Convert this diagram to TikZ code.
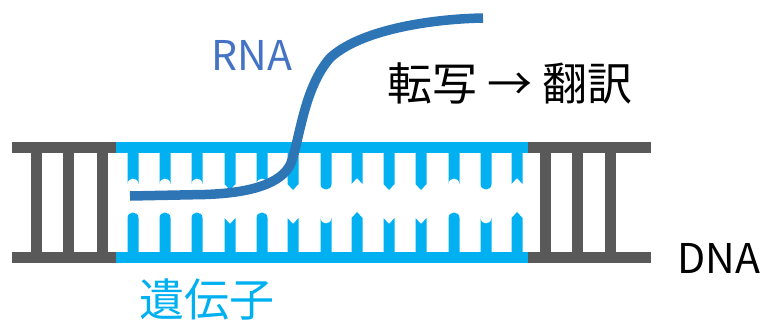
\documentclass[tikz,border=0pt]{standalone}
\usepackage{fontspec}
\setmainfont{Noto Sans CJK JP}

\definecolor{dnagray}{RGB}{89,89,89}
\definecolor{genecyan}{RGB}{0,176,240}
\definecolor{rnablue}{RGB}{46,117,182}
\definecolor{rnatext}{RGB}{68,114,196}

\tikzstyle{strand}=[fill=dnagray]
\tikzstyle{gene}=[fill=genecyan]
\tikzstyle{rna}=[draw=rnablue, line width=9.5pt]
\tikzstyle{label}=[inner sep=0pt, font=\fontsize{41}{41}\selectfont]
\tikzstyle{jlabel}=[inner sep=0pt, font=\fontsize{45}{45}\selectfont]

\begin{document}
\begin{tikzpicture}[x=1pt, y=-1pt]
      \useasboundingbox (0,0) rectangle (765,324);

      % backbone
      \fill[strand] (12,142) rectangle (651,153);
      \fill[strand] (12,252) rectangle (651,263);
      \foreach \x in {36.5, 68.5, 102, 545, 577.5, 610}
        \fill[strand] (\x-5.5,150) rectangle (\x+5.5,255);
      \fill[gene] (116,142) rectangle (528,153);
      \fill[gene] (116,252) rectangle (528,263);

      % base pairs with round ends (s=1: top bulges, bottom is cut)
      \foreach \x/\s in {133/-1, 165/-1, 197/-1, 262/-1, 326/1, 454/-1, 486/1} {
        \fill[gene] (\x-5.5,150) -- (\x-5.5,184)
          .. controls (\x-5.5,184+7.3*\s) and (\x+5.5,184+7.3*\s) .. (\x+5.5,184)
          -- (\x+5.5,150) -- cycle;
        \fill[gene] (\x-5.5,255) -- (\x-5.5,218)
          .. controls (\x-5.5,218+7.3*\s) and (\x+5.5,218+7.3*\s) .. (\x+5.5,218)
          -- (\x+5.5,255) -- cycle;
      }
      % base pairs with pointed ends
      \foreach \x/\s in {230/1, 293/1, 357/-1, 389/1, 421/1, 517/-1} {
        \fill[gene] (\x-5.5,150) -- (\x-5.5,184) -- (\x,184+6*\s) -- (\x+5.5,184)
          -- (\x+5.5,150) -- cycle;
        \fill[gene] (\x-5.5,255) -- (\x-5.5,218) -- (\x,218+6*\s) -- (\x+5.5,218)
          -- (\x+5.5,255) -- cycle;
      }

      % transcript
      \draw[rna] (130,196) -- (205,194.5)
        .. controls (250,193) and (282,184) .. (291,163)
        .. controls (300,138) and (304,88) .. (330,58)
        .. controls (360,30) and (430,19) .. (483,18);

      \node[label, text=rnatext] (rnaname) at (252,55) {RNA};
      \node[jlabel] (steps) at (510,83) {転写 → 翻訳};
      \node[label] (dnaname) at (719,258) {DNA};
      \node[jlabel, text=genecyan] (genename) at (207,299) {遺伝子};
    \end{tikzpicture}
\end{document}
